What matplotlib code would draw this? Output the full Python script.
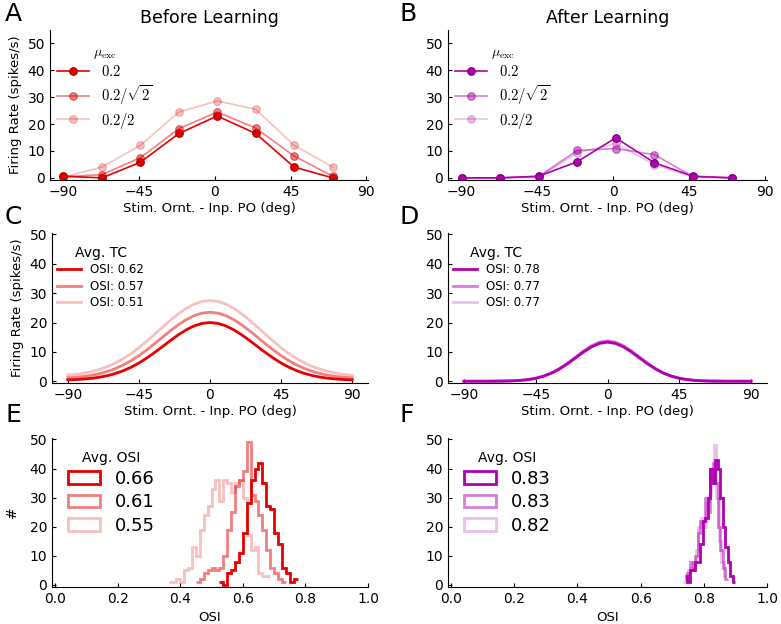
import matplotlib
matplotlib.use('Agg')
import matplotlib.pyplot as plt
import matplotlib.patches as mpatches
import numpy as np

plt.rcParams['mathtext.fontset'] = 'cm'
plt.rcParams['font.family'] = 'DejaVu Sans'

RED = '#e60000'
RED_EDGE = '#a80000'
MAG = '#b000b0'
MAG_EDGE = '#780078'
ALPHAS = [1.0, 0.5, 0.25]

# --- panels A/B: measured tuning curves ---
ornt = [-90, -67.1, -44.3, -21.4, 1.4, 24.3, 47.1, 70]
before_rates = [
    [0.6, 0.0, 5.8, 16.5, 23.0, 16.5, 4.0, 0.0],
    [0.4, 1.2, 7.5, 18.3, 24.5, 18.5, 8.1, 0.6],
    [0.3, 4.0, 12.1, 24.5, 28.6, 25.5, 12.1, 4.0],
]
after_rates = [
    [0.0, 0.0, 0.6, 6.0, 14.9, 5.6, 0.6, 0.0],
    [0.0, 0.0, 0.5, 10.2, 10.9, 8.6, 0.5, 0.0],
    [0.0, 0.0, 0.3, 9.3, 12.8, 4.9, 0.3, 0.0],
]
mu_labels = [r'$0.2$', r'$0.2/\sqrt{2}$', r'$0.2/2$']

# --- panels C/D: averaged tuning curves (5 deg steps) ---
theta = list(range(-90, 95, 5))
before_tc = [
    [0.46, 0.57, 0.74, 1.00, 1.37, 1.90, 2.62, 3.56, 4.76, 6.21, 7.91, 9.81, 11.84,
     13.89, 15.83, 17.53, 18.86, 19.71, 20.0, 19.71, 18.86, 17.53, 15.83, 13.89,
     11.84, 9.81, 7.91, 6.21, 4.76, 3.56, 2.62, 1.90, 1.37, 1.00, 0.74, 0.57, 0.46],
    [1.14, 1.33, 1.61, 2.02, 2.57, 3.32, 4.29, 5.50, 6.98, 8.72, 10.67, 12.80, 15.01,
     17.20, 19.23, 20.99, 22.35, 23.21, 23.5, 23.21, 22.35, 20.99, 19.23, 17.20,
     15.01, 12.80, 10.67, 8.72, 6.98, 5.50, 4.29, 3.32, 2.57, 2.02, 1.61, 1.33, 1.14],
    [2.05, 2.33, 2.73, 3.28, 4.02, 4.97, 6.18, 7.65, 9.40, 11.41, 13.63, 16.01, 18.43,
     20.81, 22.99, 24.86, 26.29, 27.19, 27.5, 27.19, 26.29, 24.86, 22.99, 20.81,
     18.43, 16.01, 13.63, 11.41, 9.40, 7.65, 6.18, 4.97, 4.02, 3.28, 2.73, 2.33, 2.05],
]
after_tc = [
    [0.0, 0.0, 0.0, 0.01, 0.03, 0.06, 0.13, 0.28, 0.54, 1.00, 1.72, 2.78, 4.21,
     5.98, 7.97, 9.98, 11.70, 12.88, 13.3, 12.88, 11.70, 9.98, 7.97, 5.98,
     4.21, 2.78, 1.72, 1.00, 0.54, 0.28, 0.13, 0.06, 0.03, 0.01, 0.0, 0.0, 0.0],
    [0.0, 0.0, 0.0, 0.01, 0.03, 0.06, 0.14, 0.28, 0.56, 1.02, 1.76, 2.84, 4.30,
     6.12, 8.15, 10.20, 11.97, 13.17, 13.6, 13.17, 11.97, 10.20, 8.15, 6.12,
     4.30, 2.84, 1.76, 1.02, 0.56, 0.28, 0.14, 0.06, 0.03, 0.01, 0.0, 0.0, 0.0],
    [0.0, 0.0, 0.0, 0.01, 0.03, 0.06, 0.14, 0.29, 0.57, 1.04, 1.80, 2.90, 4.40,
     6.25, 8.33, 10.43, 12.23, 13.46, 13.9, 13.46, 12.23, 10.43, 8.33, 6.25,
     4.40, 2.90, 1.80, 1.04, 0.57, 0.29, 0.14, 0.06, 0.03, 0.01, 0.0, 0.0, 0.0],
]
osi_tc_before = ['OSI: 0.62', 'OSI: 0.57', 'OSI: 0.51']
osi_tc_after = ['OSI: 0.78', 'OSI: 0.77', 'OSI: 0.77']

# --- panels E/F: OSI histograms (bin start, bin width, counts) ---
hist_before = [
    (0.525, 0.0125, [1, 0, 4, 5, 8, 11, 18, 28, 36, 40, 42, 35, 27, 26, 18, 14, 6, 4, 1, 2]),
    (0.45, 0.0125, [1, 2, 4, 5, 6, 5, 6, 10, 19, 25, 34, 36, 39, 49, 31, 29, 24, 19, 12, 6, 4, 2, 1]),
    (0.3625, 0.0125, [1, 1, 2, 1, 5, 6, 13, 10, 19, 24, 27, 33, 36, 29, 36, 35, 32, 35, 36,
                      30, 17, 12, 13, 4, 3, 3]),
]
hist_after = [
    (0.74, 0.008, [3, 1, 5, 5, 8, 8, 14, 22, 23, 30, 40, 35, 43, 40, 30, 20, 13, 8, 3, 1]),
    (0.74, 0.008, [2, 4, 8, 6, 10, 18, 22, 22, 30, 25, 40, 42, 35, 20, 12, 6, 2]),
    (0.735, 0.008, [1, 2, 5, 6, 8, 12, 20, 23, 20, 28, 31, 38, 48, 30, 15, 8, 3]),
]
avg_osi_before = ['0.66', '0.61', '0.55']
avg_osi_after = ['0.83', '0.83', '0.82']

xlab = 'Stim. Ornt. - Inp. PO (deg)'


def style(ax):
    for s in ['top', 'right']:
        ax.spines[s].set_visible(False)
    ax.tick_params(direction='in', length=3, labelsize=10, top=False, right=False)


fig = plt.figure(figsize=(7.81, 6.24), dpi=100)
W, H = 781, 624


def add_ax(l, t, r, b):
    return fig.add_axes([l / W, 1 - b / H, (r - l) / W, (b - t) / H])


axA = add_ax(50, 30, 368, 180)
axB = add_ax(448, 30, 767, 180)
axC = add_ax(52, 233, 368, 383)
axD = add_ax(448, 233, 767, 383)
axE = add_ax(52, 438, 368, 587)
axF = add_ax(448, 438, 767, 587)

# A / B
for ax, rates, col, edge, title in [(axA, before_rates, RED, RED_EDGE, 'Before Learning'),
                                    (axB, after_rates, MAG, MAG_EDGE, 'After Learning')]:
    for r, a, lab in zip(rates, ALPHAS, mu_labels):
        ax.plot(ornt, r, '-o', color=col, alpha=a, lw=1.2, ms=5.5,
                mec=edge, mew=0.8, label=lab, zorder=3 - a)
    ax.set_xlim(-98, 91)
    ax.set_ylim(-0.8, 55)
    ax.set_xticks([-90, -45, 0, 45, 90])
    ax.set_yticks([0, 10, 20, 30, 40, 50])
    ax.set_xlabel(xlab, fontsize=9.5, labelpad=2)
    ax.set_title(title, fontsize=12.5, pad=5)
    ax.legend(loc='upper left', title=r'$\mu_{\rm exc}$', frameon=False,
              fontsize=10.5, title_fontsize=10, labelspacing=0.25,
              bbox_to_anchor=(-0.01, 0.97), handlelength=2.2, borderaxespad=0.3)
    style(ax)
axA.set_ylabel('Firing Rate (spikes/s)', fontsize=9.5, labelpad=4)

# C / D
for ax, tcs, col, labs in [(axC, before_tc, RED, osi_tc_before),
                           (axD, after_tc, MAG, osi_tc_after)]:
    for tc, a, lab in zip(tcs, ALPHAS, labs):
        ax.plot(theta, tc, '-', color=col, alpha=a, lw=2, label=lab)
    ax.set_xlim(-100, 100)
    ax.set_ylim(-0.6, 50.5)
    ax.set_xticks([-90, -45, 0, 45, 90])
    ax.set_yticks([0, 10, 20, 30, 40, 50])
    ax.set_xlabel(xlab, fontsize=9.5, labelpad=2)
    ax.legend(loc='upper left', title='Avg. TC', frameon=False, fontsize=8.5,
              title_fontsize=10, labelspacing=0.3, bbox_to_anchor=(-0.01, 0.97),
              handlelength=2.0, borderaxespad=0.3)
    style(ax)
axC.set_ylabel('Firing Rate (spikes/s)', fontsize=9.5, labelpad=4)

# E / F
for ax, hists, col, labs in [(axE, hist_before, RED, avg_osi_before),
                             (axF, hist_after, MAG, avg_osi_after)]:
    handles = []
    for (start, width, counts), a, lab in list(zip(hists, ALPHAS, labs))[::-1]:
        edges = start + width * np.arange(len(counts) + 1)
        ax.stairs(counts, edges, color=col, alpha=a, lw=2, baseline=None)
    for a, lab in zip(ALPHAS, labs):
        handles.append(mpatches.Patch(facecolor='none', edgecolor=col, alpha=a,
                                      lw=2, label=lab))
    ax.set_xlim(-0.01, 1.0)
    ax.set_ylim(-0.7, 50.5)
    ax.set_xticks([0.0, 0.2, 0.4, 0.6, 0.8, 1.0])
    ax.set_xticklabels(['0.0', '0.2', '0.4', '0.6', '0.8', '1.0'])
    ax.set_yticks([0, 10, 20, 30, 40, 50])
    ax.set_xlabel('OSI', fontsize=9.5, labelpad=4)
    ax.legend(handles=handles, loc='upper left', title='Avg. OSI', frameon=False,
              fontsize=13, title_fontsize=10, labelspacing=0.3,
              bbox_to_anchor=(0.01, 1.0), handlelength=1.8, handleheight=0.7,
              borderaxespad=0.3)
    style(ax)
axE.set_ylabel('#', fontsize=10, labelpad=8)

for lab, (x, y) in zip('ABCDEF', [(5, 2), (400, 2), (5, 205), (400, 205), (5, 403), (400, 403)]):
    fig.text(x / W, 1 - y / H, lab, fontsize=18, va='top', ha='left')

fig.savefig('out.png', dpi=100)
